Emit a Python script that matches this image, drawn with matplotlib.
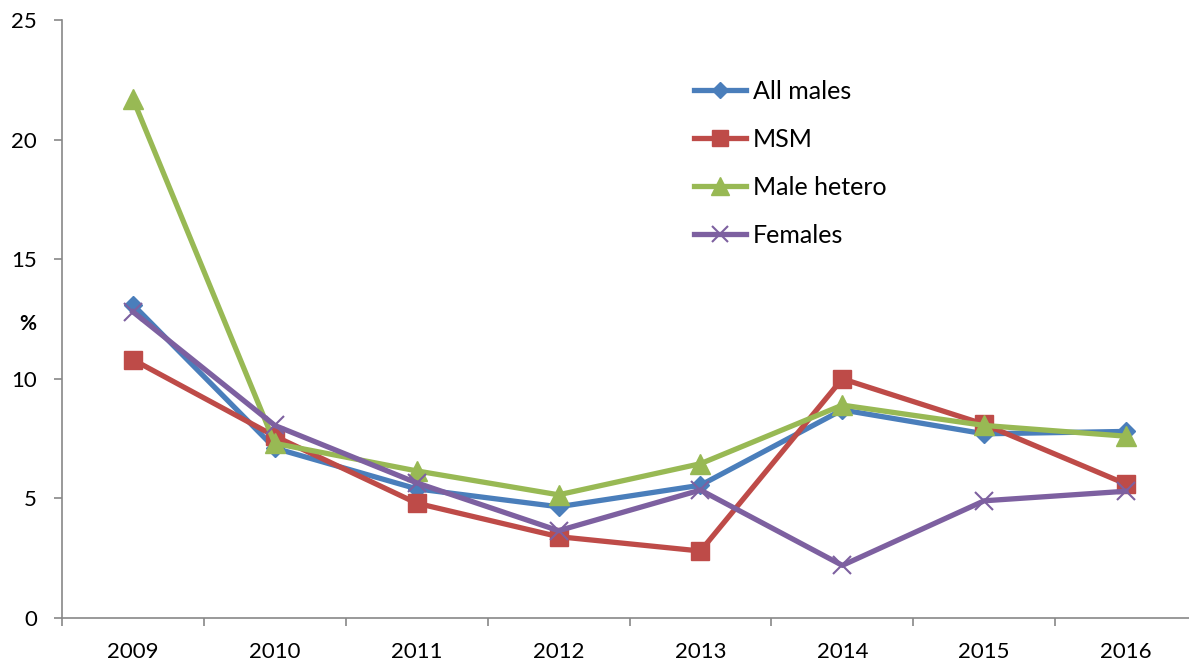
import matplotlib
matplotlib.use("Agg")
import matplotlib.pyplot as plt
import numpy as np

# ---------------------------------------------------------------------------
# Data
# ---------------------------------------------------------------------------
years = ["2009", "2010", "2011", "2012", "2013", "2014", "2015", "2016"]
all_males = [13.1, 7.1, 5.4, 4.65, 5.55, 8.7, 7.7, 7.8]
msm = [10.8, 7.6, 4.8, 3.4, 2.8, 10.0, 8.1, 5.6]
male_hetero = [21.7, 7.3, 6.15, 5.15, 6.45, 8.9, 8.05, 7.6]
females = [12.8, 8.05, 5.65, 3.65, 5.35, 2.2, 4.9, 5.3]

plt.rcParams["font.family"] = ["Lato", "DejaVu Sans"]

fig = plt.figure(figsize=(11.89, 6.63), dpi=100)
ax = fig.add_axes([62 / 1189, 45 / 663, 1135 / 1189, 598 / 663])

x = np.arange(len(years))
series = [
    ("All males", all_males, "#4A7EBB", "D", 9.5, None),
    ("MSM", msm, "#BE4B48", "s", 13.5, None),
    ("Male hetero", male_hetero, "#98B954", "^", 14, None),
    ("Females", females, "#7D60A0", "x", 13, 1.5),
]
for label, vals, color, marker, ms, mew in series:
    kw = {}
    if mew is not None:
        kw["markeredgewidth"] = mew
    ax.plot(x, vals, color=color, linewidth=3.8, marker=marker,
            markersize=ms, label=label, **kw)

ax.set_xlim(-0.5, len(years) - 0.5)
ax.set_ylim(0, 25)
ax.set_yticks([0, 5, 10, 15, 20, 25])
ax.set_xticks(x)
ax.set_xticklabels(years)
ax.set_xticks(np.arange(len(years) + 1) - 0.5, minor=True)
ax.tick_params(axis="x", which="major", length=0, pad=17, labelsize=16)
ax.tick_params(axis="x", which="minor", length=6, width=1.2, color="#888888")
ax.tick_params(axis="y", length=6, width=1.2, color="#888888", pad=12,
               labelsize=16)

for side in ("top", "right"):
    ax.spines[side].set_visible(False)
for side in ("left", "bottom"):
    ax.spines[side].set_color("#888888")
    ax.spines[side].set_linewidth(1.2)

ax.set_ylabel("%", fontsize=15, fontweight="bold", rotation=0)
ax.yaxis.set_label_coords(-0.03, 0.475)

ax.legend(loc="upper left", bbox_to_anchor=(0.537, 0.937), frameon=False,
          fontsize=18, handlelength=2.1, labelspacing=1.0, handletextpad=0.25,
          markerscale=0.9)

fig.savefig("out.png", dpi=100)
